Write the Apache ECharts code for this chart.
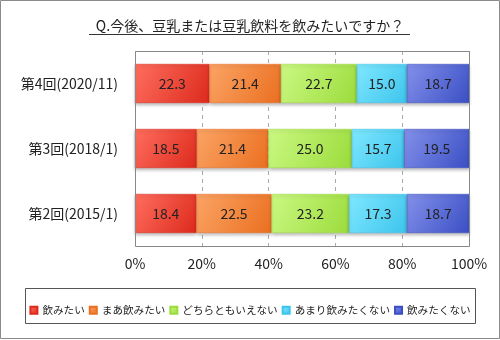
<!DOCTYPE html>
<html><head><meta charset="utf-8">
<script src="https://cdn.jsdelivr.net/npm/echarts@6/dist/echarts.min.js"></script>
<style>html,body{margin:0;padding:0;background:#fff}#c{width:500px;height:340px}</style>
</head><body><div id="c"></div>
<script>
const categories = ['第2回(2015/1)', '第3回(2018/1)', '第4回(2020/11)'];
const seriesNames = ['飲みたい', 'まあ飲みたい', 'どちらともいえない', 'あまり飲みたくない', '飲みたくない'];
const drink = [18.4, 18.5, 22.3];
const somewhatDrink = [22.5, 21.4, 21.4];
const neither = [23.2, 25.0, 22.7];
const notReally = [17.3, 15.7, 15.0];
const notDrink = [18.7, 19.5, 18.7];
const xTicks = [0, 20, 40, 60, 80, 100];
const title = 'Q.今後、豆乳または豆乳飲料を飲みたいですか？';

const values = [drink, somewhatDrink, neither, notReally, notDrink];
const grads = [
  ['#ff6e5e', '#dc2a1c', '#e8402f'],
  ['#fba465', '#ea6f20', '#f3843a'],
  ['#cbf882', '#9bdc3c', '#addf55'],
  ['#80e8ff', '#3cc4ec', '#5ad2f4'],
  ['#8390ea', '#3a4fc4', '#5466d4']
];
const FONT = '"Noto Sans CJK JP", "Noto Sans", sans-serif';
const chart = echarts.init(document.getElementById('c'), null, {renderer: 'canvas'});
chart.setOption({
  animation: false,
  backgroundColor: '#fff',
  textStyle: {fontFamily: FONT},
  title: {
    text: title, left: 'center', top: 14,
    textStyle: {fontSize: 14, fontWeight: 'normal', color: '#222', fontFamily: FONT}
  },
  graphic: [
    {type: 'rect', shape: {x: 0.5, y: 0.5, width: 499, height: 338}, style: {fill: 'none', stroke: '#8a8a8a', lineWidth: 1}, z: 100},
    {type: 'line', shape: {x1: 89, y1: 34.5, x2: 410, y2: 34.5}, style: {stroke: '#333', lineWidth: 1}},
    {type: 'rect', shape: {x: 25.5, y: 288.5, width: 450, height: 35}, style: {fill: 'none', stroke: '#555', lineWidth: 1}},
    {type: 'rect', shape: {x: 135.5, y: 51.5, width: 334, height: 195}, style: {fill: 'none', stroke: '#888', lineWidth: 1}, z: 50}
  ],
  legend: {
    data: seriesNames, left: 'center', top: 300,
    itemWidth: 7, itemHeight: 7, itemGap: 4,
    icon: 'rect',
    textStyle: {fontSize: 10.6, color: '#222', fontFamily: FONT}
  },
  grid: {left: 135, right: 31, top: 51, bottom: 94, containLabel: false},
  xAxis: {
    type: 'value', min: 0, max: 100, interval: 20,
    axisLabel: {formatter: v => xTicks.includes(v) ? v + '%' : '', fontSize: 14, color: '#222', margin: 11},
    splitLine: {show: true, lineStyle: {type: [4, 4], color: '#aaa'}},
    axisLine: {show: false}, axisTick: {show: false}
  },
  yAxis: {
    type: 'category', data: categories,
    axisLabel: {fontSize: 14, color: '#222', margin: 17},
    axisLine: {show: false}, axisTick: {show: false}
  },
  series: seriesNames.map((n, i) => ({
    name: n, type: 'bar', stack: 'total', barCategoryGap: '40%',
    data: values[i],
    color: grads[i][2],
    itemStyle: {
      color: new echarts.graphic.LinearGradient(0, 0, 1, 1, [
        {offset: 0, color: grads[i][0]}, {offset: 1, color: grads[i][1]}
      ]),
      borderColor: grads[i][1], borderWidth: 0.5,
      shadowColor: 'rgba(0,0,0,0.25)', shadowOffsetY: 2, shadowBlur: 3
    },
    label: {
      show: true, position: 'inside', fontSize: 14, color: '#222',
      formatter: p => p.value.toFixed(1)
    }
  }))
});
</script></body></html>
